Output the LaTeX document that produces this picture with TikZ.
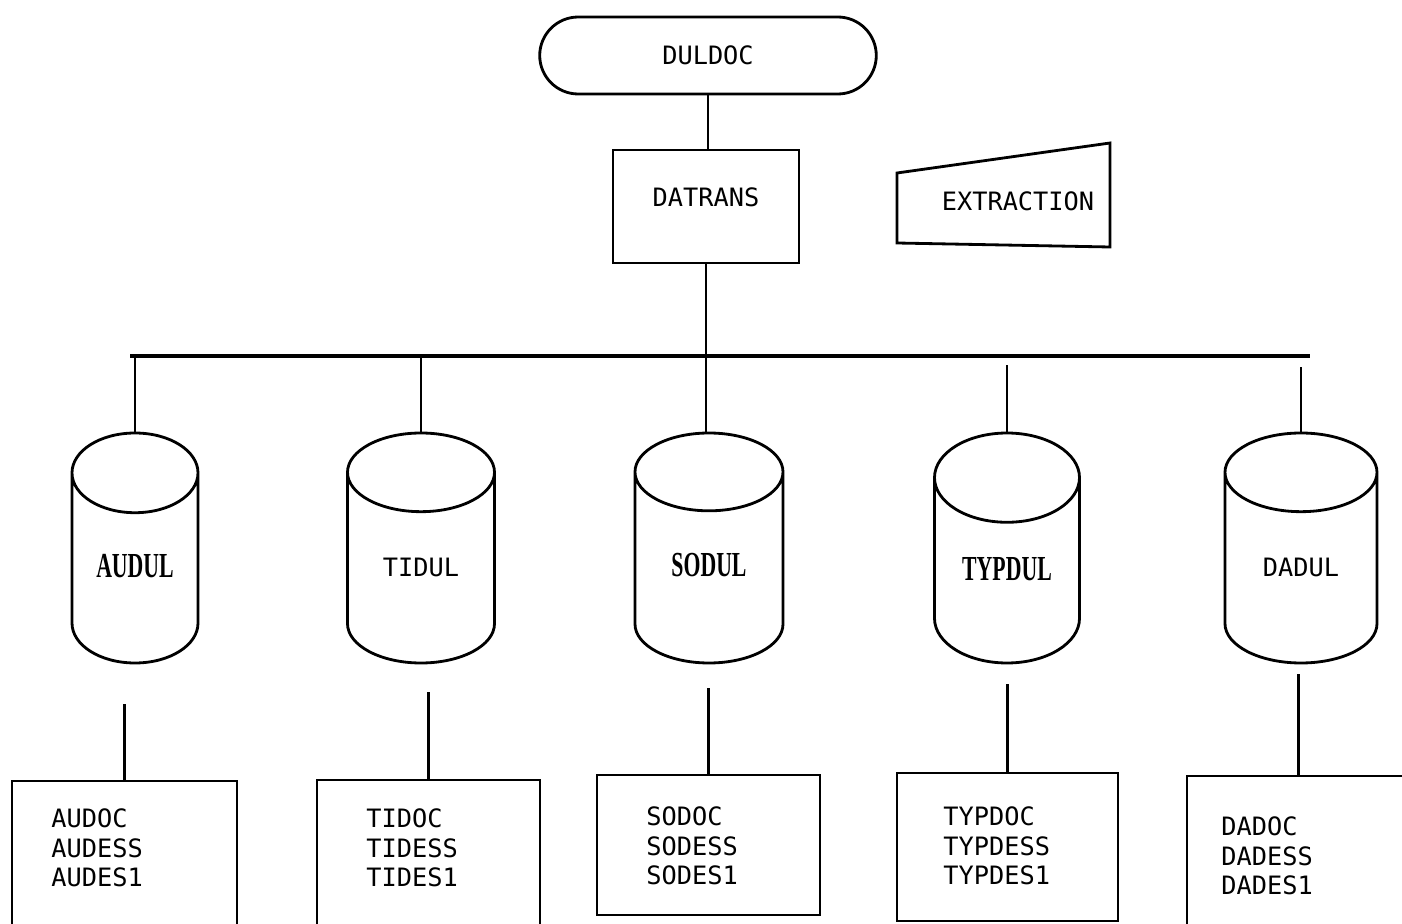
\documentclass[tikz,border=0pt]{standalone}
\usepackage{fontspec}
\usetikzlibrary{shapes.geometric,shapes.misc}
\newfontfamily\chartfont{DejaVu Sans Mono}
\newfontfamily\stampfont{Liberation Serif}[FakeStretch=0.62]
\tikzset{
    every node/.style={font=\chartfont\fontsize{7.2}{8.5}\selectfont}
}
\tikzset{
    terminal/.style={rounded rectangle, draw,
    	minimum width=3.60cm, minimum height=0.77cm},
    process/.style={rectangle, draw,
    	minimum width=1.86cm, minimum height=1.13cm, text depth=0.18cm},
    store/.style={cylinder, draw, shape border rotate=90,
    	aspect=0.79, minimum height=2.3cm, anchor=shape center,
    	text height=0.25cm, text depth=0.3cm},
    listbox/.style={rectangle, draw},
    listtext/.style={align=left, anchor=north west, inner sep=0pt},
    stamped/.style={font=\stampfont\bfseries\fontsize{10}{12}\selectfont},
    bus/.style={line width=1.2pt}
}

\begin{document}
\begin{tikzpicture}[line width=0.8pt]
	\clip (0,0) rectangle (14.02,-9.24);
	\node (duldoc) [terminal] at (7.08cm,-0.555cm) {DULDOC};
	\node (datrans) [process] at (7.06cm,-2.065cm) {DATRANS};
	\node (extraction) at (10.18cm,-2.01cm) {EXTRACTION};
	\draw (8.97,-1.73) -- (11.10,-1.43) -- (11.10,-2.47) -- (8.97,-2.43) -- cycle;

	\node (audul) [store, stamped, minimum width=1.26cm] at (1.35cm,-5.48cm) {AUDUL};
	\node (tidul) [store, minimum width=1.47cm] at (4.21cm,-5.48cm) {TIDUL};
	\node (sodul) [store, stamped, minimum width=1.48cm] at (7.09cm,-5.48cm) {SODUL};
	\node (typdul) [store, stamped, minimum width=1.45cm] at (10.07cm,-5.48cm) {TYPDUL};
	\node (dadul) [store, minimum width=1.52cm] at (13.01cm,-5.48cm) {DADUL};

	\node (aubox) [listbox, minimum width=2.25cm, minimum height=1.59cm] at (1.245cm,-8.605cm) {};
	\node (tibox) [listbox, minimum width=2.23cm, minimum height=1.60cm] at (4.285cm,-8.60cm) {};
	\node (sobox) [listbox, minimum width=2.23cm, minimum height=1.40cm] at (7.085cm,-8.45cm) {};
	\node (typbox) [listbox, minimum width=2.21cm, minimum height=1.48cm] at (10.075cm,-8.47cm) {};
	\node (dabox) [listbox, minimum width=2.23cm, minimum height=1.64cm] at (12.985cm,-8.58cm) {};

	\node (aulist) [listtext] at (0.50cm,-8.07cm) {AUDOC\\AUDESS\\AUDES1};
	\node (tilist) [listtext] at (3.65cm,-8.07cm) {TIDOC\\TIDESS\\TIDES1};
	\node (solist) [listtext] at (6.45cm,-8.05cm) {SODOC\\SODESS\\SODES1};
	\node (typlist) [listtext] at (9.42cm,-8.05cm) {TYPDOC\\TYPDESS\\TYPDES1};
	\node (dalist) [listtext] at (12.20cm,-8.15cm) {DADOC\\DADESS\\DADES1};

	\coordinate (busw) at (1.30cm,-3.56cm);
	\coordinate (buse) at (13.10cm,-3.56cm);
	\draw[bus] (busw) -- (buse);

	\draw (duldoc.south) -- (duldoc.south |- datrans.north);
	\draw (datrans.south) -- (datrans.south |- sodul.north);
	\draw (audul.north) -- (audul.north |- busw);
	\draw (tidul.north) -- (tidul.north |- busw);
	\draw[shorten >=0.09cm] (typdul.north) -- (typdul.north |- busw);
	\draw[shorten >=0.11cm] (dadul.north) -- (dadul.north |- busw);

	\draw[shorten >=0.4cm] (aubox.north) -- (aubox.north |- audul.south);
	\draw[shorten >=0.28cm] (tibox.north) -- (tibox.north |- tidul.south);
	\draw[shorten >=0.24cm] (sobox.north) -- (sobox.north |- sodul.south);
	\draw[shorten >=0.2cm] (typbox.north) -- (typbox.north |- typdul.south);
	\draw[shorten >=0.1cm] (dabox.north) -- (dabox.north |- dadul.south);
\end{tikzpicture}
\end{document}
